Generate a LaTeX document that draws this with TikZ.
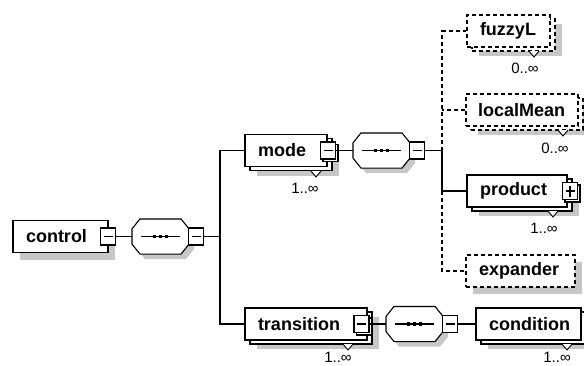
\documentclass[tikz,border=0pt]{standalone}
\usepackage{fontspec}
\setmainfont{Liberation Sans}
\usetikzlibrary{shadows}

\begin{document}
\begin{tikzpicture}[x=1pt,y=-1pt,
        line width=1.1pt,
        elem/.style={draw, fill=white, align=left, inner xsep=13pt, inner ysep=0pt,
            minimum height=32pt, font=\fontsize{18}{21}\selectfont\bfseries},
        single/.style={drop shadow={shadow xshift=7pt, shadow yshift=-7pt,
            draw=none, fill=black!22, opacity=1}},
        multi/.style={drop shadow={shadow xshift=12pt, shadow yshift=-9pt,
            draw=none, fill=black!22, opacity=1},
            copy shadow={shadow xshift=5pt, shadow yshift=-4pt}},
        optional/.style={dash pattern=on 4pt off 3pt},
        seq/.style={inner sep=0pt, minimum width=56pt, minimum height=34pt},
        collapse/.style={draw, fill=white, inner sep=0pt, minimum width=15pt, minimum height=17pt,
            path picture={\draw ([xshift=3pt]path picture bounding box.west) -- ([xshift=-3pt]path picture bounding box.east);}},
        expand/.style={collapse,
            path picture={\draw ([xshift=3pt]path picture bounding box.west) -- ([xshift=-3pt]path picture bounding box.east);
                \draw ([yshift=-3pt]path picture bounding box.north) -- ([yshift=3pt]path picture bounding box.south);}},
        multibox/.style={copy shadow={shadow xshift=2.5pt, shadow yshift=-2.5pt}},
        occ/.style={font=\fontsize{15}{18}\selectfont},
        tick/.style={fill=white, line width=0.9pt}]

    \useasboundingbox (0,0) rectangle (584,365);

    % sequence compositors (octagons)
    \node[seq] (seqA) at (160.5,236.5) {};
    \node[seq] (seqB) at (381.5,150.5) {};
    \node[seq] (seqC) at (414.5,324) {};
    \foreach \s in {seqA,seqB,seqC} {
        \fill[black!22, transform canvas={shift={(5pt,-5pt)}}]
            ([xshift=8pt]\s.north west) -- ([xshift=-8pt]\s.north east) -- ([yshift=-10pt]\s.north east)
            -- ([yshift=10pt]\s.south east) -- ([xshift=-8pt]\s.south east) -- ([xshift=8pt]\s.south west)
            -- ([yshift=10pt]\s.south west) -- ([yshift=-10pt]\s.north west) -- cycle;
        \draw[fill=white]
            ([xshift=8pt]\s.north west) -- ([xshift=-8pt]\s.north east) -- ([yshift=-10pt]\s.north east)
            -- ([yshift=10pt]\s.south east) -- ([xshift=-8pt]\s.south east) -- ([xshift=8pt]\s.south west)
            -- ([yshift=10pt]\s.south west) -- ([yshift=-10pt]\s.north west) -- cycle;
        \draw ([xshift=9pt]\s.west) -- ([xshift=-9pt]\s.east);
        \foreach \d in {-6,0,6}
            \fill ([shift={(\d-1.8,-1.8)}]\s.center) rectangle ([shift={(\d+1.8,1.8)}]\s.center);
    }

    % root element
    \node[elem, single, text width=69pt] (control) at (60.5,236.5) {control};
    \node[collapse] (controlbox) at (108,236.5) {};
    \node[collapse] (seqAbox) at (196,236.5) {};
    \coordinate (forkA) at (220,236.5);

    % mode
    \node[elem, multi, text width=56pt] (mode) at (286,150.5) {mode};
    \node[collapse, multibox] (modebox) at (328,150.5) {};
    \draw[tick] (311,171) -- (316,177) -- (321,171);
    \node[occ] (modeocc) at (305,188) {1..∞};
    \node[collapse] (seqBbox) at (417,150.5) {};
    \coordinate (forkB) at (442,150.5);

    % children of mode
    \node[elem, multi, optional, text width=57pt] (fuzzyL) at (508.5,31) {fuzzyL};
    \draw[tick] (529,51) -- (534,57) -- (539,51);
    \node[occ] (fuzzyLocc) at (525,68) {0..∞};

    \node[elem, multi, optional, inner xsep=12pt, text width=88pt] (localMean) at (522,110) {localMean};
    \draw[tick] (558,130) -- (563,136) -- (568,130);
    \node[occ] (localMeanocc) at (555,148) {0..∞};

    \node[elem, multi, text width=74pt] (product) at (517,191) {product};
    \node[expand, multibox] (productbox) at (570,191) {};
    \draw[tick] (548,211) -- (553,217) -- (558,211);
    \node[occ] (productocc) at (544,228) {1..∞};

    \node[elem, single, optional, text width=83pt] (expander) at (520.5,271) {expander};

    % transition
    \node[elem, multi, text width=96pt] (transition) at (306,324) {transition};
    \node[collapse, multibox] (transitionbox) at (361.5,324) {};
    \draw[tick] (343,344) -- (348,350) -- (353,344);
    \node[occ] (transitionocc) at (338,357.5) {1..∞};
    \node[collapse] (seqCbox) at (450,324) {};

    \node[elem, multi, text width=79pt] (condition) at (528.5,324) {condition};
    \draw[tick] (562,344) -- (567,350) -- (572,344);
    \node[occ] (conditionocc) at (557,357.5) {1..∞};

    % connectors
    \draw (controlbox.east) -- (seqA.west);
    \draw (seqAbox.east) -- (forkA);
    \draw (mode.west) -| (forkA) |- (transition.west);
    \draw (modebox.east) -- (seqB.west);
    \draw (seqBbox.east) -- (forkB);
    \draw (forkB) |- (product.west);
    \draw[optional] (forkB) |- (fuzzyL.west);
    \draw[optional] (localMean.west) -- (localMean.west -| forkB);
    \draw[optional] (product.west -| forkB) |- (expander.west);
    \draw (transitionbox.east) -- (seqC.west);
    \draw (seqCbox.east) -- (condition.west);
\end{tikzpicture}
\end{document}
